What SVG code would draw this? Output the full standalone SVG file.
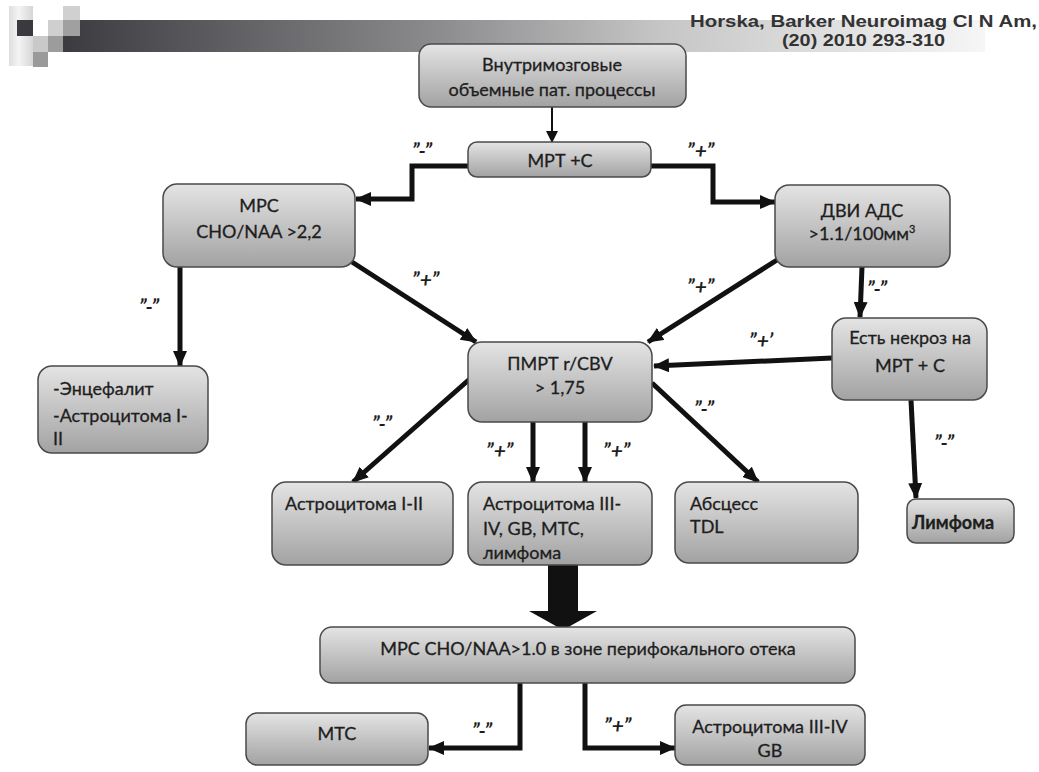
<svg xmlns="http://www.w3.org/2000/svg" width="1039" height="772" viewBox="0 0 1039 772">
<style>
.box{fill:url(#bg);stroke:#4a4a4a;stroke-width:1.5}
.t{font-family:Lato,"Liberation Sans",sans-serif;font-size:18px;fill:#1e1e1e;stroke:#1e1e1e;stroke-width:0.3}
.c{text-anchor:middle}
.lbl{font-family:Lato,"Liberation Sans",sans-serif;font-size:21px;font-weight:bold;font-style:italic;fill:#1e1e1e}
.ln{fill:none;stroke:#111;stroke-width:5;marker-end:url(#ah)}
.hd{font-family:"Liberation Sans",Arial,sans-serif;font-weight:bold;font-size:16px;fill:#333}
</style>
<defs>
<linearGradient id="bg" x1="0" y1="0" x2="0" y2="1">
<stop offset="0" stop-color="#e4e4e4"/>
<stop offset="1" stop-color="#a2a2a2"/>
</linearGradient>
<linearGradient id="bar" x1="63" y1="0" x2="985" y2="0" gradientUnits="userSpaceOnUse">
<stop offset="0" stop-color="#3c3c40"/>
<stop offset="0.4" stop-color="#8a8a8d"/>
<stop offset="0.65" stop-color="#c6c6c6"/>
<stop offset="1" stop-color="#f6f6f6"/>
</linearGradient>
<linearGradient id="sq" x1="0" y1="0" x2="1" y2="0">
<stop offset="0" stop-color="#dedede"/>
<stop offset="0.4" stop-color="#f4f4f4"/>
<stop offset="1" stop-color="#d6d6d6"/>
</linearGradient>
<marker id="ah" markerUnits="userSpaceOnUse" markerWidth="16" markerHeight="14" refX="15" refY="7" orient="auto">
<path d="M0,0 L16,7 L0,14 z" fill="#111"/>
</marker>
<marker id="ahs" markerUnits="userSpaceOnUse" markerWidth="12" markerHeight="12" refX="11" refY="6" orient="auto">
<path d="M0,0 L12,6 L0,12 z" fill="#111"/>
</marker>
</defs>
<rect width="1039" height="772" fill="#fff"/>
<g id="header">
<rect x="63" y="20" width="922" height="32" fill="url(#bar)"/>
<rect x="9" y="6" width="24" height="60" fill="url(#sq)"/>
<rect x="17" y="20" width="16" height="16" fill="#3a3a3e"/>
<rect x="33" y="36" width="15" height="16" fill="#c9c9c9"/>
<rect x="33" y="52" width="15" height="15" fill="#9a9a9a"/>
<rect x="48" y="20" width="15" height="16" fill="#cfcfcf"/>
<rect x="48" y="36" width="15" height="16" fill="#9c9c9c"/>
<rect x="63" y="6" width="17" height="14" fill="#d0d0d0"/>
<rect x="63" y="20" width="17" height="16" fill="#a0a0a0"/>
<text class="hd" x="690" y="27" textLength="347" lengthAdjust="spacingAndGlyphs">Horska, Barker Neuroimag Cl N Am,</text>
<text class="hd" x="782" y="46" textLength="163" lengthAdjust="spacingAndGlyphs">(20) 2010 293-310</text>
</g>
<g id="connectors">
<line x1="552" y1="107" x2="552" y2="142" stroke="#111" stroke-width="2" marker-end="url(#ahs)"/>
<polyline class="ln" points="468,166 412,166 412,199 356,199"/>
<polyline class="ln" points="651,166 713,166 713,202 775,202"/>
<line class="ln" x1="352" y1="262" x2="476" y2="342"/>
<line class="ln" x1="777" y1="260" x2="648" y2="342"/>
<line class="ln" x1="832" y1="358" x2="654" y2="366"/>
<line class="ln" x1="180" y1="267" x2="180" y2="366"/>
<line class="ln" x1="862" y1="267" x2="860" y2="317"/>
<line class="ln" x1="472" y1="377" x2="353" y2="482"/>
<line class="ln" x1="533" y1="422" x2="533" y2="482"/>
<line class="ln" x1="585" y1="422" x2="585" y2="482"/>
<line class="ln" x1="652" y1="383" x2="758" y2="482"/>
<line class="ln" x1="911" y1="400" x2="916" y2="498"/>
<polygon points="548,565 578,565 578,611 597,611 563,630 529,611 548,611" fill="#111"/>
<polyline class="ln" points="520,683 520,748 429,748"/>
<polyline class="ln" points="585,683 585,748 675,748"/>
<text class="lbl" x="412" y="158">”-”</text>
<text class="lbl" x="687" y="158">”+”</text>
<text class="lbl" x="139" y="314">”-”</text>
<text class="lbl" x="412" y="287">”+”</text>
<text class="lbl" x="687" y="294">”+”</text>
<text class="lbl" x="867" y="296">”-”</text>
<text class="lbl" x="749" y="348">”+’</text>
<text class="lbl" x="694" y="416">”-”</text>
<text class="lbl" x="372" y="431">”-”</text>
<text class="lbl" x="486" y="458">”+”</text>
<text class="lbl" x="603" y="458">”+”</text>
<text class="lbl" x="934" y="450">”-”</text>
<text class="lbl" x="472" y="738">”-”</text>
<text class="lbl" x="604" y="733">”+”</text>
</g>
<g id="n-start">
<rect class="box" x="419" y="44" width="267" height="63" rx="12"/>
<text class="t c" x="552" y="71">Внутримозговые</text>
<text class="t c" x="552" y="96">объемные пат. процессы</text>
</g>
<g id="n-mrt">
<rect class="box" x="468" y="142" width="183" height="35" rx="9"/>
<text class="t c" x="560" y="167">МРТ +С</text>
</g>
<g id="n-mrs">
<rect class="box" x="163" y="184" width="192" height="83" rx="14"/>
<text class="t c" x="259" y="212">МРС</text>
<text class="t c" x="259" y="238">CHO/NAA &gt;2,2</text>
</g>
<g id="n-dvi">
<rect class="box" x="775" y="185" width="175" height="82" rx="14"/>
<text class="t c" x="862" y="217">ДВИ АДС</text>
<text class="t c" x="862" y="240">&gt;1.1/100мм<tspan font-size="11" dy="-7">3</tspan></text>
</g>
<g id="n-necro">
<rect class="box" x="832" y="318" width="155" height="82" rx="14"/>
<text class="t c" x="910" y="344">Есть некроз на</text>
<text class="t c" x="910" y="372">МРТ + С</text>
</g>
<g id="n-pmrt">
<rect class="box" x="468" y="342" width="184" height="80" rx="14"/>
<text class="t c" x="560" y="370">ПМРТ r/CBV</text>
<text class="t c" x="560" y="394">&gt; 1,75</text>
</g>
<g id="n-enc">
<rect class="box" x="38" y="366" width="170" height="87" rx="14"/>
<text class="t" x="53" y="395">-Энцефалит</text>
<text class="t" x="53" y="422">-Астроцитома I-</text>
<text class="t" x="53" y="445">II</text>
</g>
<g id="n-astro12">
<rect class="box" x="272" y="482" width="181" height="83" rx="14"/>
<text class="t" x="285" y="510">Астроцитома I-II</text>
</g>
<g id="n-astro34">
<rect class="box" x="468" y="482" width="184" height="83" rx="14"/>
<text class="t" x="483" y="510">Астроцитома III-</text>
<text class="t" x="483" y="535">IV, GB, MTC,</text>
<text class="t" x="483" y="559">лимфома</text>
</g>
<g id="n-abs">
<rect class="box" x="675" y="482" width="183" height="81" rx="14"/>
<text class="t" x="690" y="510">Абсцесс</text>
<text class="t" x="690" y="533">TDL</text>
</g>
<g id="n-lymph">
<rect class="box" x="907" y="499" width="107" height="44" rx="9"/>
<text class="t" x="912" y="529" font-size="20" font-weight="bold">Лимфома</text>
</g>
<g id="n-mrs2">
<rect class="box" x="320" y="627" width="535" height="56" rx="12"/>
<text class="t c" x="588" y="655">МРС CHO/NAA&gt;1.0 в зоне перифокального отека</text>
</g>
<g id="n-mts">
<rect class="box" x="246" y="713" width="182" height="52" rx="11"/>
<text class="t c" x="337" y="740">МТС</text>
</g>
<g id="n-astro34gb">
<rect class="box" x="675" y="705" width="190" height="60" rx="11"/>
<text class="t c" x="770" y="733">Астроцитома III-IV</text>
<text class="t c" x="770" y="757">GB</text>
</g>
</svg>
